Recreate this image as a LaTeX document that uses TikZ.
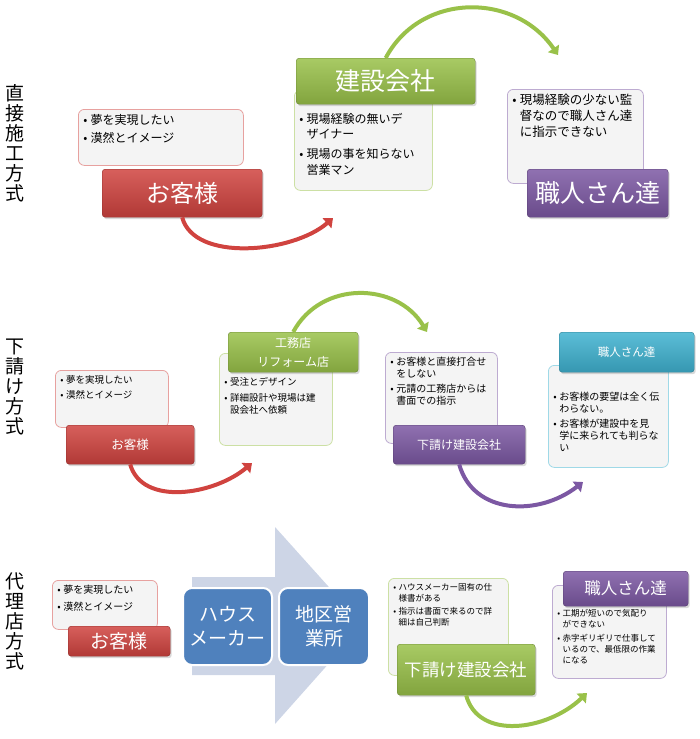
\documentclass[tikz,border=0pt]{standalone}
\usepackage{fontspec}
\setmainfont{Noto Sans CJK JP}
\usetikzlibrary{arrows.meta,shadows}
\definecolor{custc}{HTML}{D0433F}
\definecolor{buildc}{HTML}{99C149}
\definecolor{craftc}{HTML}{7C58A3}
\definecolor{subc}{HTML}{3FB2D0}
\definecolor{agentc}{HTML}{4F81BD}
\definecolor{notec}{HTML}{F4F4F4}
\definecolor{bandc}{HTML}{CDD5E6}
\newcommand\notebox[4][3pt]{\parbox[t][#3pt][t]{#2pt}{\parskip=#1\relax #4}}
\newcommand\bitem[1]{\par\hangindent=0.6em\hangafter=1\noindent\makebox[0.6em][l]{•}#1\par}
\tikzset{
  side/.style={align=center, font=\fontsize{19}{20}\selectfont},
  note/.style={draw=#1!50!white, fill=notec, line width=0.8pt, rounded corners=6pt, anchor=north west, inner sep=5pt},
  head/.style={draw=#1!70!black, top color=#1!85!white, bottom color=#1!85!black, text=white, rounded corners=3pt, anchor=north west, inner sep=0pt, align=center, drop shadow={shadow xshift=1.5pt, shadow yshift=-2pt, opacity=0.3}},
  agent/.style={fill=agentc, draw=white, line width=2pt, rounded corners=9pt, text=white, anchor=north west, inner sep=0pt, align=center, font=\fontsize{19}{24}\selectfont},
  flow/.style={draw=#1, line width=4pt, -{Triangle[length=8pt,width=13pt]}},
}
\begin{document}
\begin{tikzpicture}[x=1pt,y=-1pt]
\useasboundingbox (0,0) rectangle (700,739);
\node[side] (lab1) at (15,143) {直\\接\\施\\工\\方\\式};
\node[side] (lab2) at (15,387) {下\\請\\け\\方\\式};
\node[side] (lab3) at (15,621) {代\\理\\店\\方\\式};

\node[note=custc, font=\fontsize{12}{15}\selectfont] (n1) at (78,109) {\notebox{155}{46}{\bitem{夢を実現したい}\bitem{漠然とイメージ}}};
\node[note=buildc, font=\fontsize{12}{15.5}\selectfont] (n2) at (294,90) {\notebox[4.5pt]{128}{90}{\vspace*{13pt}\bitem{現場経験の無いデ\\ザイナー}\bitem{現場の事を知らない\\営業マン}}};
\node[note=craftc, font=\fontsize{12.5}{16}\selectfont] (n3) at (507,89) {\notebox{126}{84}{\bitem{現場経験の少ない監\\督なので職人さん達\\に指示できない}}};
\node[head=custc, minimum width=160, minimum height=48, font=\fontsize{24}{28}\selectfont] (h1) at (102,169) {お客様};
\node[head=buildc, minimum width=179, minimum height=46, font=\fontsize{25}{28}\selectfont] (h2) at (296,58) {建設会社};
\node[head=craftc, minimum width=141, minimum height=48, font=\fontsize{25}{28}\selectfont] (h3) at (527,169) {職人さん達};
\coordinate (e1) at (333,218);
\coordinate (e2) at (558,55);
\draw[flow=custc] (h1.south) .. controls +(12,45) and +(-40,35) .. (e1);
\draw[flow=buildc] (h2.north) .. controls +(35,-66) and +(-43,-63) .. (e2);

\node[note=custc, font=\fontsize{9.5}{12}\selectfont] (n4) at (55,370) {\notebox{103}{47}{\bitem{夢を実現したい}\bitem{漠然とイメージ}}};
\node[note=buildc, font=\fontsize{9.5}{11.5}\selectfont] (n5) at (219,353) {\notebox[4.5pt]{103}{82}{\vspace*{15pt}\bitem{受注とデザイン}\bitem{詳細設計や現場は建\\設会社へ依頼}}};
\node[note=craftc, font=\fontsize{10}{12}\selectfont] (n6) at (385,352) {\notebox{102}{81}{\bitem{お客様と直接打合せ\\をしない}\bitem{元請の工務店からは\\書面での指示}}};
\node[note=subc, font=\fontsize{10}{12}\selectfont] (n7) at (548,365) {\notebox{110}{92}{\vspace*{19pt}\bitem{お客様の要望は全く伝\\わらない。}\bitem{お客様が建設中を見\\学に来られても判らな\\い}}};
\node[head=custc, minimum width=128, minimum height=39, font=\fontsize{12.5}{15}\selectfont] (h4) at (66,425) {お客様};
\node[head=buildc, minimum width=130, minimum height=40, font=\fontsize{12}{19}\selectfont] (h5) at (228,332) {工務店\\リフォーム店};
\node[head=craftc, minimum width=132, minimum height=39, font=\fontsize{12}{15}\selectfont] (h6) at (393,425) {下請け建設会社};
\node[head=subc, minimum width=135, minimum height=40, font=\fontsize{11.5}{15}\selectfont] (h7) at (559,332) {職人さん達};
\coordinate (e4) at (252,463);
\coordinate (e5) at (427,332);
\coordinate (e6) at (583,482);
\draw[flow=custc] (h4.south) .. controls +(12,42) and +(-38,32) .. (e4);
\draw[flow=buildc] (h5.north) .. controls +(28,-52) and +(-30,-50) .. (e5);
\draw[flow=craftc] (h6.south) .. controls +(14,50) and +(-45,35) .. (e6);

\fill[bandc] (192,577) -- (275,577) -- (275,527) -- (363,625) -- (275,724) -- (275,675) -- (192,675) -- cycle;
\node[agent, minimum width=89, minimum height=77] (house) at (182,587) {ハウス\\メーカー};
\node[agent, minimum width=90, minimum height=77] (office) at (278,587) {地区営\\業所};
\node[note=custc, font=\fontsize{10}{13}\selectfont] (n8) at (52,580) {\notebox[4pt]{95}{39}{\bitem{夢を実現したい}\bitem{漠然とイメージ}}};
\node[note=buildc, font=\fontsize{8.5}{11}\selectfont] (n9) at (388,578) {\notebox[2pt]{110}{87}{\bitem{ハウスメーカー固有の仕\\様書がある}\bitem{指示は書面で来るので詳\\細は自己判断}}};
\node[note=craftc, font=\fontsize{8.5}{11}\selectfont] (n10) at (552,585) {\notebox[3pt]{104}{83}{\vspace*{16pt}\bitem{工期が短いので気配り\\ができない}\bitem{赤字ギリギリで仕事して\\いるので、最低限の作業\\になる}}};
\node[head=custc, minimum width=102, minimum height=30, font=\fontsize{19}{22}\selectfont] (h8) at (68,626) {お客様};
\node[head=buildc, minimum width=138, minimum height=51, font=\fontsize{17.5}{20}\selectfont] (h11) at (397,644) {下請け建設会社};
\node[head=craftc, minimum width=125, minimum height=35, font=\fontsize{16.5}{20}\selectfont] (h12) at (563,571) {職人さん達};
\coordinate (e11) at (587,693);
\draw[flow=buildc] (h11.south) .. controls +(12,45) and +(-40,38) .. (e11);
\end{tikzpicture}
\end{document}
